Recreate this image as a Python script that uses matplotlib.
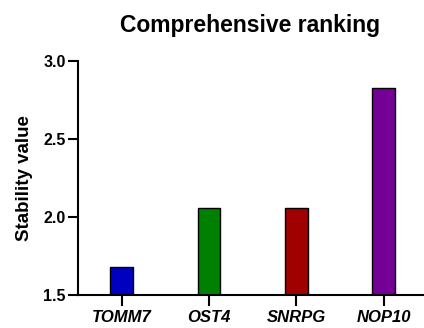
import matplotlib.pyplot as plt
import numpy as np

genes = ["TOMM7", "OST4", "SNRPG", "NOP10"]
stability = [1.68, 2.06, 2.06, 2.83]
bar_colors = ["#0000C0", "#008000", "#A00000", "#740096"]

plt.rcParams['font.family'] = ['Liberation Sans', 'DejaVu Sans']

fig = plt.figure(figsize=(4.24, 3.28), dpi=100)
ax = fig.add_axes([78 / 424, 1 - 295 / 328, 345 / 424, 234 / 328])

x = np.arange(len(genes))
# thin grey shadow to the right of each bar
ax.bar(x + 0.012, np.array(stability) - 1.5, bottom=1.5, width=0.26,
       color="#999999", linewidth=0, zorder=1)
ax.bar(x, np.array(stability) - 1.5, bottom=1.5, width=0.26,
       color=bar_colors, edgecolor="black", linewidth=1.0, zorder=2)

ax.set_xlim(-0.5, 3.45)
ax.set_ylim(1.5, 3.0)
ax.set_yticks([1.5, 2.0, 2.5, 3.0])
ax.set_yticklabels(["1.5", "2.0", "2.5", "3.0"], fontweight="bold", fontsize=11.5)
ax.set_xticks(x)
ax.set_xticklabels(genes, fontweight="bold", fontstyle="italic", fontsize=12)

ax.spines['top'].set_visible(False)
ax.spines['right'].set_visible(False)
ax.spines['left'].set_linewidth(1.5)
ax.spines['bottom'].set_linewidth(1.5)
ax.tick_params(axis='y', length=7, width=1.5, pad=2)
ax.tick_params(axis='x', length=8, width=1.5, pad=3)

ax.set_ylabel("Stability value", fontweight="bold", fontsize=13.5, labelpad=7)
ax.set_title("Comprehensive ranking", fontweight="bold", fontsize=16.5, pad=21)

fig.savefig("out.png", dpi=100)
